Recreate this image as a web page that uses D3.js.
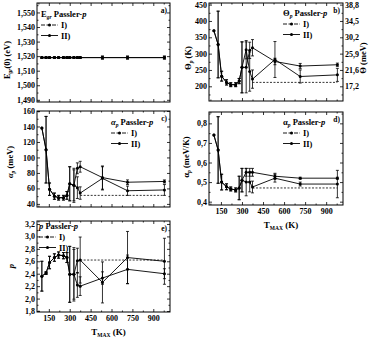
<!DOCTYPE html>
<html>
<head>
<meta charset="utf-8">
<script src="https://cdn.jsdelivr.net/npm/d3@7"></script>
<style>
  body { margin: 0; background: #fff; }
  text { font-family: "Liberation Serif", "Times New Roman", serif; font-weight: bold; fill: #000; }
</style>
</head>
<body>
<div id="chart"></div>
<script>
// T_MAX values (K) shared by all panels
var tmax = [100, 130, 155, 190, 220, 255, 280, 300, 330, 355, 375, 535, 715, 980];
var xTicks = [150, 300, 450, 600, 750, 900];
var refStart = 375; // dashed reference line starts here

// a) E_g(0) (eV)
var e0I  = [1.519, 1.519, 1.519, 1.519, 1.519, 1.519, 1.519, 1.519, 1.519, 1.519, 1.519, 1.519, 1.519, 1.519];
var e0II = [1.519, 1.519, 1.519, 1.519, 1.519, 1.519, 1.519, 1.519, 1.519, 1.519, 1.519, 1.519, 1.519, 1.519];
var e0ErrI  = [0.0005, 0.0005, 0.0005, 0.0005, 0.0005, 0.0005, 0.0005, 0.0005, 0.0005, 0.0005, 0.0005, 0.001, 0.001, 0.001];
var e0ErrII = [0.0005, 0.0005, 0.0005, 0.0005, 0.0005, 0.0005, 0.0005, 0.0005, 0.0005, 0.0005, 0.0005, 0.001, 0.001, 0.001];
var e0Ticks = [1.490, 1.500, 1.510, 1.520, 1.530, 1.540, 1.550];

// b) Theta_p (K)
var thetaI  = [370, 328, 231, 212, 205, 205, 216, 258, 258, 310, 318, 276, 262, 266];
var thetaII = [370, 328, 231, 212, 205, 205, 216, 258, 312, 245, 222, 282, 230, 235];
var thetaErrI  = [0, 102, 15, 8, 6, 6, 8, 78, 78, 25, 25, 10, 8, 5];
var thetaErrII = [0, 102, 15, 8, 6, 6, 8, 78, 28, 60, 28, 55, 20, 20];
var thetaRef = 212;
var thetaTicks = [200, 250, 300, 350, 400, 450];
var thetaMeVLabels = ["17,2", "21,6", "25,9", "30,2", "34,5", "38,8"];

// c) alpha_p (meV)
var aMeVI  = [138, 110, 59, 50, 48, 48, 51, 66, 64, 86, 88, 74, 68, 69];
var aMeVII = [138, 110, 59, 50, 48, 48, 51, 66, 64, 61, 54, 73, 57, 58];
var aMeVErrI  = [0, 43, 8, 4, 3, 3, 5, 22, 22, 7, 7, 15, 3, 2];
var aMeVErrII = [0, 43, 8, 4, 3, 3, 5, 22, 20, 14, 8, 15, 6, 7];
var aMeVRef = 51;
var aMeVTicks = [40, 60, 80, 100, 120, 140, 160];

// d) alpha_p (meV/K)
var alphaI  = [0.74, 0.664, 0.50, 0.476, 0.465, 0.46, 0.47, 0.51, 0.55, 0.55, 0.55, 0.53, 0.52, 0.52];
var alphaII = [0.74, 0.664, 0.50, 0.476, 0.465, 0.46, 0.47, 0.51, 0.50, 0.50, 0.475, 0.52, 0.49, 0.49];
var alphaErrI  = [0, 0.17, 0.04, 0.015, 0.01, 0.01, 0.06, 0.06, 0.02, 0.02, 0.02, 0.015, 0.005, 0.005];
var alphaErrII = [0, 0.17, 0.04, 0.015, 0.01, 0.01, 0.06, 0.06, 0.07, 0.05, 0.03, 0.02, 0.01, 0.07];
var alphaRef = 0.47;
var alphaTicks = [0.4, 0.5, 0.6, 0.7, 0.8];

// e) p
var pI  = [2.36, 2.41, 2.58, 2.66, 2.70, 2.69, 2.66, 2.39, 2.39, 2.22, 2.20, 2.33, 2.47, 2.40];
var pII = [2.36, 2.41, 2.58, 2.66, 2.70, 2.69, 2.66, 2.39, 2.39, 2.61, 2.62, 2.26, 2.66, 2.60];
var pErrI  = [0.24, 0.02, 0.1, 0.06, 0.05, 0.05, 0.08, 0.45, 0.43, 0.2, 0.15, 0.1, 0.23, 0.08];
var pErrII = [0.24, 0.02, 0.1, 0.06, 0.05, 0.05, 0.08, 0.45, 0.40, 0.2, 0.37, 0.33, 0.42, 0.37];
var pRef = 2.62;
var pTicks = [1.8, 2.0, 2.2, 2.4, 2.6, 2.8, 3.0, 3.2];

var svgWidth = 369, svgHeight = 337;
var svg = d3.select("#chart").append("svg")
    .attr("width", svgWidth)
    .attr("height", svgHeight);

var comma = function(fmt) {
    var f = d3.format(fmt);
    return function(d) { return f(d).replace(".", ","); };
};

// one panel of the figure
function drawPanel(p) {
    var g = svg.append("g").attr("transform", `translate(${p.x}, ${p.y})`);
    var x = d3.scaleLinear().domain([65, 1020]).range([0, p.w]);
    var y = d3.scaleLinear().domain(p.yDomain).range([p.h, 0]);

    var xMinor = [75, 225, 375, 525, 675, 825, 975];
    var yStep = p.yTicks[1] - p.yTicks[0];
    var yMinor = p.yTicks.map(function(v) { return v + yStep / 2; })
        .concat([p.yTicks[0] - yStep / 2])
        .filter(function(v) { return v > p.yDomain[0] && v < p.yDomain[1]; });

    // bottom axis (labels only where asked)
    g.append("g").attr("transform", `translate(0, ${p.h})`)
        .call(d3.axisBottom(x).tickValues(xTicks).tickSize(-3).tickSizeOuter(0).tickPadding(3)
            .tickFormat(p.xLabels ? d3.format("d") : ""));
    g.append("g").attr("transform", `translate(0, ${p.h})`)
        .call(d3.axisBottom(x).tickValues(xMinor).tickSize(-1.5).tickSizeOuter(0).tickFormat(""));
    // top mirror
    g.append("g")
        .call(d3.axisTop(x).tickValues(xTicks).tickSize(-3).tickSizeOuter(0).tickFormat(""));
    g.append("g")
        .call(d3.axisTop(x).tickValues(xMinor).tickSize(-1.5).tickSizeOuter(0).tickFormat(""));
    // left axis
    g.append("g")
        .call(d3.axisLeft(y).tickValues(p.yTicks).tickSize(-3).tickSizeOuter(0).tickPadding(2)
            .tickFormat(p.yFormat));
    g.append("g")
        .call(d3.axisLeft(y).tickValues(yMinor).tickSize(-1.5).tickSizeOuter(0).tickFormat(""));
    // right axis
    g.append("g").attr("transform", `translate(${p.w}, 0)`)
        .call(d3.axisRight(y).tickValues(p.yTicks).tickSize(-3).tickSizeOuter(0).tickPadding(2)
            .tickFormat(p.rightLabels ? function(d, i) { return p.rightLabels[i]; } : ""));
    g.append("g").attr("transform", `translate(${p.w}, 0)`)
        .call(d3.axisRight(y).tickValues(yMinor).tickSize(-1.5).tickSizeOuter(0).tickFormat(""));

    g.selectAll(".tick text").style("font-size", "8px").style("font-family", "Liberation Serif").style("font-weight", "bold");
    g.selectAll(".domain").remove();
    g.selectAll(".tick line").attr("stroke", "#000").attr("stroke-width", 0.8);

    g.append("rect")
        .attr("width", p.w).attr("height", p.h)
        .attr("fill", "none").attr("stroke", "#000").attr("stroke-width", 1);

    // dashed reference line
    if (p.ref !== undefined) {
        g.append("line")
            .attr("x1", x(refStart)).attr("x2", x(tmax[tmax.length - 1]))
            .attr("y1", y(p.ref)).attr("y2", y(p.ref))
            .attr("stroke", "#000").attr("stroke-width", 0.8)
            .attr("stroke-dasharray", "2,1.5");
    }

    var line = d3.line().x(function(d) { return x(d[0]); }).y(function(d) { return y(d[1]); });

    [p.series[0], p.series[1]].forEach(function(s) {
        var pts = tmax.map(function(t, i) { return [t, s.vals[i], s.err[i]]; });
        g.append("path").datum(pts)
            .attr("d", line)
            .attr("fill", "none").attr("stroke", "#000").attr("stroke-width", 0.9);
        var eb = g.append("g").selectAll("g").data(pts.filter(function(d) { return d[2] > 0; }))
            .enter().append("g");
        eb.append("line")
            .attr("x1", function(d) { return x(d[0]); }).attr("x2", function(d) { return x(d[0]); })
            .attr("y1", function(d) { return y(d[1] - d[2]); }).attr("y2", function(d) { return y(d[1] + d[2]); })
            .attr("stroke", "#000").attr("stroke-width", 0.8);
        [-1, 1].forEach(function(sign) {
            eb.append("line")
                .attr("x1", function(d) { return x(d[0]) - 1.5; }).attr("x2", function(d) { return x(d[0]) + 1.5; })
                .attr("y1", function(d) { return y(d[1] + sign * d[2]); })
                .attr("y2", function(d) { return y(d[1] + sign * d[2]); })
                .attr("stroke", "#000").attr("stroke-width", 0.8);
        });
        g.append("g").selectAll("circle").data(pts).enter().append("circle")
            .attr("cx", function(d) { return x(d[0]); })
            .attr("cy", function(d) { return y(d[1]); })
            .attr("r", 1.5).attr("fill", "#000");
    });

    // legend block
    var lg = g.append("g").attr("transform", `translate(${p.legend[0]}, ${p.legend[1]})`);
    var title = lg.append("text").attr("x", 0).attr("y", 0).style("font-size", "8.5px");
    p.title(title);
    ["I)", "II)"].forEach(function(lbl, i) {
        var ly = 11 + i * 10.5;
        lg.append("line").attr("x1", 0).attr("x2", 17).attr("y1", ly - 3).attr("y2", ly - 3)
            .attr("stroke", "#000").attr("stroke-width", 0.9)
            .attr("stroke-dasharray", i === 0 ? "4,1.5" : null);
        lg.append("circle").attr("cx", 8.5).attr("cy", ly - 3).attr("r", 1.5).attr("fill", "#000");
        lg.append("text").attr("x", 20).attr("y", ly).style("font-size", "8.5px").text(lbl);
    });
    g.append("text").attr("x", p.w - 3).attr("y", 10).attr("text-anchor", "end")
        .style("font-size", "7.5px").text(p.tag);

    // axis titles
    var yt = svg.append("text")
        .attr("transform", `translate(${p.yTitlePos[0]}, ${p.yTitlePos[1]}) rotate(-90)`)
        .attr("text-anchor", "middle").style("font-size", "8.5px");
    p.yTitle(yt);
    if (p.rightTitle) {
        var rt = svg.append("text")
            .attr("transform", `translate(${p.rightTitlePos[0]}, ${p.rightTitlePos[1]}) rotate(-90)`)
            .attr("text-anchor", "middle").style("font-size", "8.5px");
        p.rightTitle(rt);
    }
    if (p.xLabels) {
        var xt = svg.append("text")
            .attr("x", p.x + p.w / 2 + 5).attr("y", p.y + p.h + 23)
            .attr("text-anchor", "middle").style("font-size", "9px");
        xt.append("tspan").text("T");
        xt.append("tspan").attr("dy", 2).style("font-size", "5.5px").text("MAX");
        xt.append("tspan").attr("dy", -2).text(" (K)");
    }
}

function sub(t, main, s, rest, italicMain) {
    t.append("tspan").style("font-style", italicMain ? "italic" : null).text(main);
    t.append("tspan").attr("dy", 2).style("font-size", "5.5px").style("font-style", "italic").text(s);
    t.append("tspan").attr("dy", -2).text(rest);
}

drawPanel({
    x: 37, y: 3, w: 133, h: 99,
    yDomain: [1.4885, 1.5565], yTicks: e0Ticks, yFormat: comma(".3f"),
    series: [{vals: e0I, err: e0ErrI}, {vals: e0II, err: e0ErrII}],
    legend: [4, 14], tag: "a)",
    title: function(t) { sub(t, "E", "gr", " Passler-", false); t.append("tspan").style("font-style", "italic").text("p"); },
    yTitlePos: [10, 60],
    yTitle: function(t) { sub(t, "E", "gr", "(0) (eV)", false); }
});

drawPanel({
    x: 209, y: 3, w: 134, h: 98,
    yDomain: [155, 455], yTicks: thetaTicks, yFormat: d3.format("d"),
    rightLabels: thetaMeVLabels,
    series: [{vals: thetaI, err: thetaErrI}, {vals: thetaII, err: thetaErrII}],
    ref: thetaRef,
    legend: [74, 13], tag: "b)",
    title: function(t) { sub(t, "Θ", "p", " Passler-", false); t.append("tspan").style("font-style", "italic").text("p"); },
    yTitlePos: [191, 58],
    yTitle: function(t) { sub(t, "Θ", "p", " (K)", false); },
    rightTitlePos: [366, 58],
    rightTitle: function(t) { t.text("Θ  (meV)"); }
});

drawPanel({
    x: 37, y: 111, w: 133, h: 96,
    yDomain: [36, 160], yTicks: aMeVTicks, yFormat: d3.format("d"),
    series: [{vals: aMeVI, err: aMeVErrI}, {vals: aMeVII, err: aMeVErrII}],
    ref: aMeVRef,
    legend: [74, 14], tag: "c)",
    title: function(t) { sub(t, "α", "p", " Passler-", true); t.append("tspan").style("font-style", "italic").text("p"); },
    yTitlePos: [13, 162],
    yTitle: function(t) { sub(t, "α", "p", " (meV)", true); }
});

drawPanel({
    x: 209, y: 112, w: 134, h: 93,
    yDomain: [0.383, 0.858], yTicks: alphaTicks, yFormat: comma(".1f"),
    series: [{vals: alphaI, err: alphaErrI}, {vals: alphaII, err: alphaErrII}],
    ref: alphaRef, xLabels: true,
    legend: [74, 13], tag: "d)",
    title: function(t) { sub(t, "α", "p", " Passler-", false); t.append("tspan").style("font-style", "italic").text("p"); },
    yTitlePos: [189, 157],
    yTitle: function(t) { sub(t, "α", "p", " (meV/K)", false); }
});

drawPanel({
    x: 37, y: 221, w: 133, h: 91,
    yDomain: [1.784, 3.248], yTicks: pTicks, yFormat: comma(".1f"),
    series: [{vals: pI, err: pErrI}, {vals: pII, err: pErrII}],
    ref: pRef, xLabels: true,
    legend: [2, 8], tag: "e)",
    title: function(t) { t.append("tspan").style("font-style", "italic").text("p"); t.append("tspan").text(" Passler-"); t.append("tspan").style("font-style", "italic").text("p"); },
    yTitlePos: [14, 266],
    yTitle: function(t) { t.append("tspan").style("font-style", "italic").text("p"); }
});
</script>
</body>
</html>
